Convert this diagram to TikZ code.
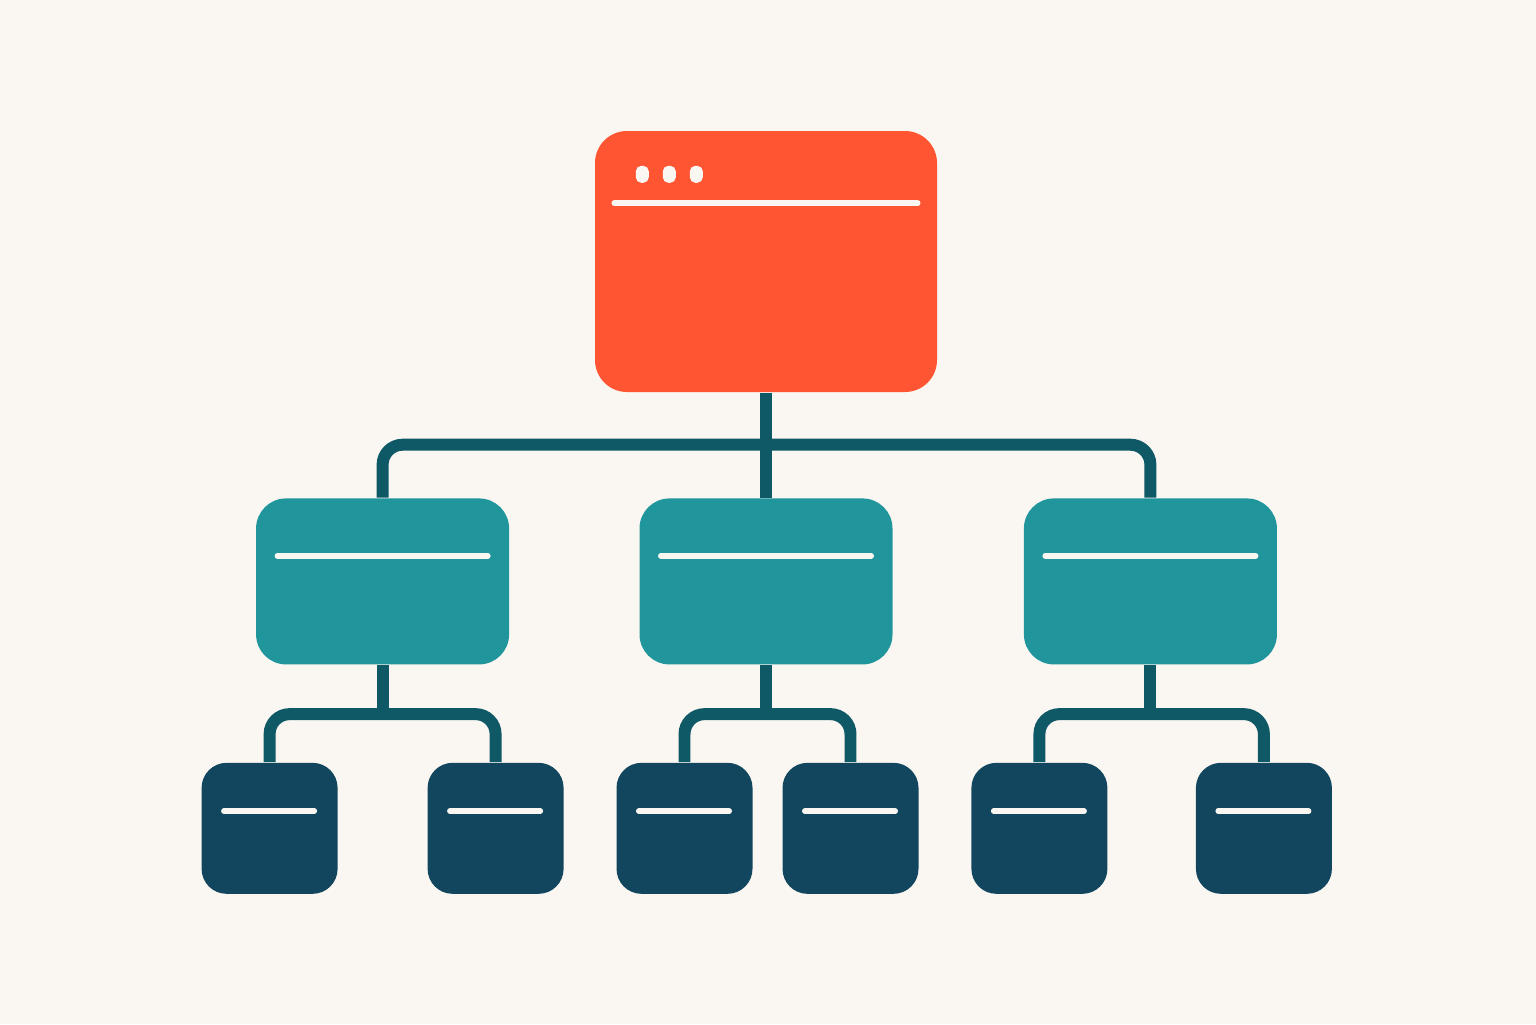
\documentclass[tikz,border=0pt]{standalone}
\usepackage{tikz}
\usetikzlibrary{positioning, calc}
\definecolor{paper}{HTML}{FAF7F2}
\definecolor{coral}{HTML}{FF5533}
\definecolor{tealbox}{HTML}{21959C}
\definecolor{navybox}{HTML}{12465E}
\definecolor{linkcol}{HTML}{0F5866}

\begin{document}
\begin{tikzpicture}[
    window/.style = {rectangle, fill = coral, rounded corners = 0.32cm, inner sep = 0pt, minimum width = 3.42cm, minimum height = 2.61cm},
    section/.style = {rectangle, fill = tealbox, rounded corners = 0.3cm, inner sep = 0pt, minimum width = 2.53cm, minimum height = 1.66cm},
    page/.style = {rectangle, fill = navybox, rounded corners = 0.25cm, inner sep = 0pt, minimum width = 1.36cm, minimum height = 1.31cm},
    link/.style = {draw = linkcol, line width = 3.4pt, rounded corners = 0.2cm},
    bar/.style = {draw = paper, line width = 1.6pt, line cap = round},
    dot/.style = {rectangle, fill = paper, rounded corners = 0.055cm, inner sep = 0pt, minimum width = 0.13cm, minimum height = 0.17cm},
    ]

    % background and margins
    \fill[paper] (0,0) rectangle (15.36,-10.24);

    % draw top window
    \node [window] (root) at (7.66,-2.615) {};
    \foreach \i in {0,1,2}
        \node [dot] (dot\i) at ([xshift = 0.48cm + \i*0.27cm, yshift = -0.44cm] root.north west) {};
    \draw [bar] ([xshift = 0.2cm, yshift = -0.73cm] root.north west) -- ([xshift = -0.2cm, yshift = -0.73cm] root.north east);

    % draw sections
    \node [section] (mid2) [below = 1.05cm of root] {};
    \node [section] (mid1) [left = 1.29cm of mid2] {};
    \node [section] (mid3) [right = 1.30cm of mid2] {};

    % draw pages
    \node [page] (leaf11) [below = 0.97cm of mid1, xshift = -1.13cm] {};
    \node [page] (leaf12) [below = 0.97cm of mid1, xshift = 1.13cm] {};
    \node [page] (leaf21) [below = 0.97cm of mid2, xshift = -0.815cm] {};
    \node [page] (leaf22) [below = 0.97cm of mid2, xshift = 0.845cm] {};
    \node [page] (leaf31) [below = 0.97cm of mid3, xshift = -1.11cm] {};
    \node [page] (leaf32) [below = 0.97cm of mid3, xshift = 1.135cm] {};

    % draw bars
    \foreach \n in {mid1, mid2, mid3}
        \draw [bar] ([xshift = 0.22cm, yshift = -0.58cm] \n.north west) -- ([xshift = -0.22cm, yshift = -0.58cm] \n.north east);
    \foreach \n in {leaf11, leaf12, leaf21, leaf22, leaf31, leaf32}
        \draw [bar] ([xshift = 0.23cm, yshift = -0.49cm] \n.north west) -- ([xshift = -0.24cm, yshift = -0.49cm] \n.north east);

    % draw links
    \draw [link] (root.south) -- (mid2.north);
    \draw [link] (mid1.north) -- ++(0,0.53) -| (mid3.north);
    \foreach \m in {1,2,3} {
        \draw [link] (mid\m.south) -- ++(0,-0.49);
        \draw [link] (leaf\m1.north) -- ++(0,0.48) -| (leaf\m2.north);
    }
\end{tikzpicture}
\end{document}
